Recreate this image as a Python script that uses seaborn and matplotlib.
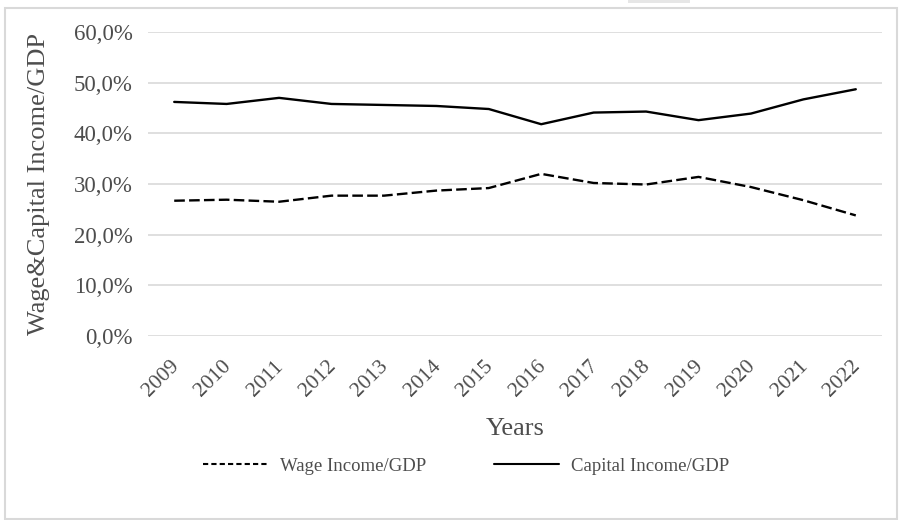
import matplotlib
matplotlib.use("Agg")
import matplotlib.pyplot as plt
import matplotlib.patches as mpatches
from matplotlib.ticker import FuncFormatter
from matplotlib.transforms import ScaledTranslation
import seaborn as sns
import pandas as pd

years = ["2009", "2010", "2011", "2012", "2013", "2014", "2015", "2016",
         "2017", "2018", "2019", "2020", "2021", "2022"]
wage = [26.7, 26.9, 26.5, 27.7, 27.7, 28.7, 29.2, 32.0, 30.2, 29.9, 31.4, 29.4, 26.8, 23.8]
capital = [46.2, 45.8, 47.0, 45.8, 45.6, 45.4, 44.8, 41.8, 44.1, 44.3, 42.6, 43.9, 46.7, 48.7]
series_names = ["Wage Income/GDP", "Capital Income/GDP"]
y_ticks = [0, 10, 20, 30, 40, 50, 60]

df = pd.DataFrame({
    "Year": years * 2,
    "Value": [v / 100 for v in wage] + [v / 100 for v in capital],
    "Series": [series_names[0]] * len(years) + [series_names[1]] * len(years),
})

sns.set_theme(style="white")
plt.rcParams["font.family"] = ["Liberation Serif", "DejaVu Serif"]
txt = "#4d4d4d"

fig = plt.figure(figsize=(9.01, 5.20), dpi=100)
ax = fig.add_axes([148 / 901, 1 - 336 / 520, (882 - 148) / 901, (336 - 32) / 520])

sns.lineplot(data=df, x="Year", y="Value", style="Series", style_order=series_names,
             dashes={series_names[0]: (4.5, 1.8), series_names[1]: ""},
             color="black", linewidth=1.7, ax=ax, sort=False, markers=False)

ax.set_xlim(-0.5, len(years) - 0.5)
ax.set_ylim(0, 0.6)
ax.set_yticks([t / 100 for t in y_ticks])
ax.yaxis.set_major_formatter(FuncFormatter(lambda v, p: f"{v*100:.1f}%".replace(".", ",")))
ax.grid(axis="y", color="#d9d9d9", linewidth=1.2)
ax.grid(axis="x", visible=False)
ax.set_axisbelow(True)
for s in ax.spines.values():
    s.set_visible(False)
ax.tick_params(axis="both", length=0, labelsize=16.5, colors=txt)
ax.tick_params(axis="x", labelsize=15.5, pad=15)
ax.tick_params(axis="y", pad=11)
plt.setp(ax.get_xticklabels(), rotation=45, ha="right", rotation_mode="anchor")
shift = ScaledTranslation(-5 / 100, 0, fig.dpi_scale_trans)
for lbl in ax.get_xticklabels():
    lbl.set_transform(lbl.get_transform() + shift)

ax.set_xlabel("Years", fontsize=19, color=txt, labelpad=12)
ax.set_ylabel("Wage&Capital Income/GDP", fontsize=19, color=txt, labelpad=17)

handles, labels = ax.get_legend_handles_labels()
if ax.get_legend() is not None:
    ax.get_legend().remove()
for h in handles:
    h.set_color("black")
    h.set_linewidth(1.5)
handles[0].set_dashes((2.5, 1.5))
leg = fig.legend(handles, labels, loc="center", bbox_to_anchor=(466 / 901, 1 - 466 / 520),
                 ncol=2, frameon=False, fontsize=13.5, handlelength=3.5, columnspacing=3.6,
                 handletextpad=0.6)
for t in leg.get_texts():
    t.set_color(txt)

fig.patches.append(mpatches.Rectangle((4.5 / 901, 1 / 520), (897 - 4.5) / 901, (511) / 520,
                                      transform=fig.transFigure, fill=False,
                                      edgecolor="#d9d9d9", linewidth=1.5))
fig.patches.append(mpatches.Rectangle((628 / 901, 1 - 3 / 520), 62 / 901, 3 / 520,
                                      transform=fig.transFigure, fill=True,
                                      facecolor="#e6e6e6", edgecolor="none"))

fig.savefig("out.png", dpi=100)
